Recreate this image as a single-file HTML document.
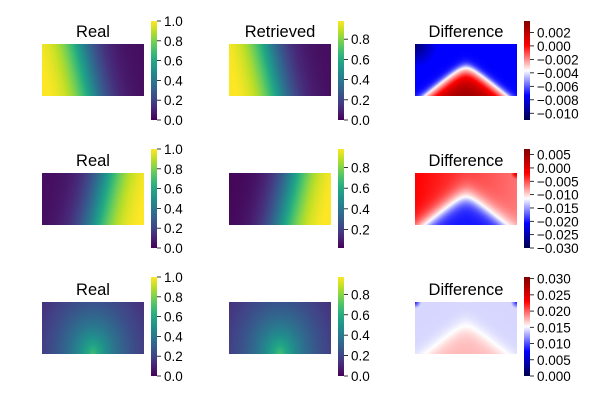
<!DOCTYPE html>
<html><head><meta charset="utf-8">
<style>
body{margin:0;background:#fff;}
#fig{position:relative;width:600px;height:400px;overflow:hidden;font-family:"Liberation Sans","DejaVu Sans",sans-serif;}
canvas{position:absolute;}
svg{position:absolute;left:0;top:0;}
</style></head>
<body>
<div id="fig">
<svg id="ov" width="600" height="400"></svg>
</div>
<script>
// ---- data ----
const rowTitles = [["Real","Retrieved","Difference"],["Real","","Difference"],["Real","","Difference"]];
const realRange = [[0,1],[0,1],[0,1]];
const retrRange = [[0,0.98],[0.02,0.98],[0,0.97]];
const diffRange = [[-0.011,0.0037],[-0.030,0.0071],[0,0.0305]];
const realTicks = [[0,0.2,0.4,0.6,0.8,1.0],[0,0.2,0.4,0.6,0.8,1.0],[0,0.2,0.4,0.6,0.8,1.0]];
const retrTicks = [[0,0.2,0.4,0.6,0.8],[0.2,0.4,0.6,0.8],[0,0.2,0.4,0.6,0.8]];
const diffTicks = [[0.002,0,-0.002,-0.004,-0.006,-0.008,-0.010],[0.005,0,-0.005,-0.010,-0.015,-0.020,-0.025,-0.030],[0.030,0.025,0.020,0.015,0.010,0.005,0]];
const diffDecimals = 3;
const fieldKind = ["left","right","cone"];

// ---- layout ----
const colX = [42,229,415], imgW = 102;
const cbX = [151,338,524], cbW = 6;
const rowImgY = [44,173,302], imgH = 52;
const rowCbY = [21,149,277], cbH = 99;

const vir = ["#440154","#482475","#414487","#355f8d","#2a788e","#21918c","#22a884","#44bf70","#7ad151","#bddf26","#fde725"].map(h=>[parseInt(h.slice(1,3),16),parseInt(h.slice(3,5),16),parseInt(h.slice(5,7),16)]);
function viridis(t){t=Math.max(0,Math.min(1,t));const s=t*10,i=Math.min(9,Math.floor(s)),f=s-i;return vir[i].map((c,k)=>c+(vir[i+1][k]-c)*f);}
const seis=[[0,0,76],[0,0,255],[255,255,255],[255,0,0],[128,0,0]];
function seismic(t){t=Math.max(0,Math.min(1,t));const s=t*4,i=Math.min(3,Math.floor(s)),f=s-i;return seis[i].map((c,k)=>c+(seis[i+1][k]-c)*f);}

function realField(kind,u,v){
  if(kind==="left"){const d=u-0.12*v;return 0.03+1.0/(1+Math.exp((d-0.36)/0.12));}
  if(kind==="right"){const d=(1-u)-0.12*v;return 0.03+1.0/(1+Math.exp((d-0.36)/0.12));}
  const dx=(u-0.5)*2,dy=1-v;const r=Math.sqrt(dx*dx*1.8+dy*dy);return 0.04+0.65*Math.exp(-r/0.9);
}
function chev(u,v){return v-0.46-(Math.sqrt(Math.pow(1.6*(u-0.5),2)+0.015)-0.122);}
function diffField(row,u,v){
  const h=chev(u,v);
  if(row===0){
    if(h>0) return 0.5+0.46*Math.tanh(h/0.3);
    const dTL=Math.sqrt(4*u*u+v*v);
    return 0.5-0.25*Math.tanh(-h/0.1)-0.2*Math.max(0,1-dTL/0.45);
  }
  if(row===1){
    if(h>0) return 0.5-0.23*Math.tanh(h/0.2);
    const dTR=Math.sqrt(4*(1-u)*(1-u)+v*v);
    return 0.5+0.25*Math.tanh(-h/0.25)*(1-0.45*u)+0.2*Math.max(0,1-dTR/0.12);
  }
  if(h>0) return 0.5+0.07*Math.tanh(h/0.25);
  const dc=Math.min(Math.sqrt(4*u*u+v*v),Math.sqrt(4*(1-u)*(1-u)+v*v));
  return 0.5-0.04*Math.tanh(-h/0.2)-0.2*Math.max(0,1-dc/0.12);
}

const fig=document.getElementById('fig');
const ov=document.getElementById('ov');
const NS="http://www.w3.org/2000/svg";
function mkCanvas(x,y,w,h,name){
  const c=document.createElement('canvas');c.width=w;c.height=h;
  c.style.left=x+'px';c.style.top=y+'px';
  
  
  fig.appendChild(c);return c;
}
function fmt(v,d){const s=Math.abs(v).toFixed(d);return (v<0?"\u2212":"")+s;}

for(let r=0;r<3;r++){
  for(let c=0;c<3;c++){
    const cv=mkCanvas(colX[c],rowImgY[r],imgW,imgH,'heatmap-r'+(r+1)+'-c'+(c+1));
    const ctx=cv.getContext('2d');const im=ctx.createImageData(imgW,imgH);
    for(let j=0;j<imgH;j++)for(let i=0;i<imgW;i++){
      const u=(i+0.5)/imgW,v=(j+0.5)/imgH;let col;
      if(c===2) col=seismic(diffField(r,u,v));
      else {let f=realField(fieldKind[r],u,v);if(c===1)f*=0.985;const rg=c===0?realRange[r]:retrRange[r];col=viridis((f-rg[0])/(rg[1]-rg[0]));}
      const k=(j*imgW+i)*4;im.data[k]=col[0];im.data[k+1]=col[1];im.data[k+2]=col[2];im.data[k+3]=255;
    }
    ctx.putImageData(im,0,0);
    const cb=mkCanvas(cbX[c],rowCbY[r],cbW,cbH,'colorbar-r'+(r+1)+'-c'+(c+1));
    const cctx=cb.getContext('2d');
    for(let j=0;j<cbH;j++){const t=1-(j+0.5)/cbH;const col=c===2?seismic(t):viridis(t);cctx.fillStyle='rgb('+col.map(Math.round).join(',')+')';cctx.fillRect(0,j,cbW,1);}
    const rect=document.createElementNS(NS,'rect');
    rect.setAttribute('x',cbX[c]+0.5);rect.setAttribute('y',rowCbY[r]+0.5);rect.setAttribute('width',cbW-1);rect.setAttribute('height',cbH-1);
    rect.setAttribute('fill','none');rect.setAttribute('stroke','#000');rect.setAttribute('stroke-width','0.8');
    
    
    ov.appendChild(rect);
    const rg=c===0?realRange[r]:c===1?retrRange[r]:diffRange[r];
    const ticks=c===0?realTicks[r]:c===1?retrTicks[r]:diffTicks[r];
    const dec=c===2?diffDecimals:1;
    ticks.forEach(tv=>{
      const y=rowCbY[r]+cbH-(tv-rg[0])/(rg[1]-rg[0])*cbH;
      const ln=document.createElementNS(NS,'line');
      ln.setAttribute('x1',cbX[c]+cbW);ln.setAttribute('x2',cbX[c]+cbW+4);ln.setAttribute('y1',y);ln.setAttribute('y2',y);
      ln.setAttribute('stroke','#000');ln.setAttribute('stroke-width','0.8');
      
      
      ov.appendChild(ln);
      const tx=document.createElementNS(NS,'text');
      tx.setAttribute('x',cbX[c]+cbW+7);tx.setAttribute('y',y+5);tx.setAttribute('font-size','13.5');tx.setAttribute('fill','#000');
      tx.textContent=fmt(tv,dec);
      
      
      ov.appendChild(tx);
    });
    if(rowTitles[r][c]){
      const tt=document.createElementNS(NS,'text');
      tt.setAttribute('x',colX[c]+imgW/2);tt.setAttribute('y',rowImgY[r]-7);tt.setAttribute('font-size','16.5');tt.setAttribute('text-anchor','middle');
      tt.textContent=rowTitles[r][c];
      
      
      ov.appendChild(tt);
    }
  }
}
</script>
</body></html>
